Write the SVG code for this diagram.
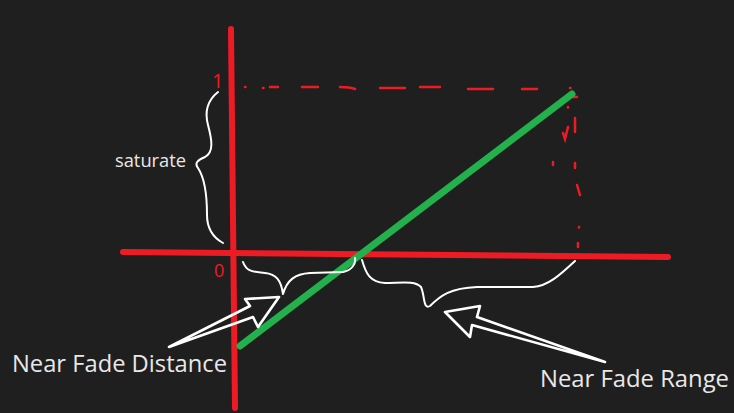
<svg xmlns="http://www.w3.org/2000/svg" width="734" height="413" viewBox="0 0 734 413">
<style>
.ax{stroke:#ed1c24;stroke-width:6;stroke-linecap:round;fill:none}
.dash{stroke:#ed1c24;stroke-width:2.5;stroke-linecap:round;fill:none}
.wh{stroke:#ffffff;stroke-width:2;fill:none;stroke-linecap:round;stroke-linejoin:round}
.arr{stroke:#ffffff;stroke-width:2.6;fill:none;stroke-linejoin:round}
.lbl{font-family:"Open Sans","Noto Sans",sans-serif;fill:#e8e8e8}
.num{font-family:"Open Sans","Noto Sans",sans-serif;fill:#ed1c24}
</style>
<rect width="734" height="413" fill="#1f1f1f"/>
<g id="guides">
<path class="dash" d="M245 87h0.5M263 88h0.5M270 87h8M302 87h16M340 87q10 0 15 2M380 88h25M420 87h20M468 89h25M522 89h15M570 88h0.5"/>
<path class="dash" d="M568 97h9M568 107v0.5M575 118v14M563 133l2 6l3 -12M553 162v3M575 163v5M577 185l3 10M579 227v0.5M578 243v4"/>
</g>
<g id="axes">
<line class="ax" x1="231" y1="29" x2="235" y2="408"/>
<line class="ax" x1="123" y1="252" x2="668" y2="257"/>
</g>
<g id="green-line">
<line x1="240" y1="346" x2="572" y2="94" stroke="#22b14c" stroke-width="7" stroke-linecap="round"/>
</g>
<g id="labels-axis">
<text class="num" x="212" y="88" font-size="20">1</text>
<text class="num" x="214" y="277" font-size="18">0</text>
</g>
<g id="saturate">
<path class="wh" d="M218 92C208 100 204 110 208 125C212 140 214 152 205 157C198 160 194 163 198 168C204 177 207 195 207 215C207 230 214 238 223 243"/>
<text class="lbl" x="115" y="167" font-size="18" textLength="71" lengthAdjust="spacingAndGlyphs">saturate</text>
</g>
<g id="near-fade-distance">
<path class="wh" d="M243 262C246 270 250 272 265 273C276 274 281 280 283 294C287 280 295 274 310 273L343 272C352 270 356 264 355 258"/>
<polygon class="arr" points="279,297 245,299 250,306 169,347 253,317 258,327"/>
<text class="lbl" x="12" y="372" font-size="23" textLength="215" lengthAdjust="spacingAndGlyphs">Near Fade Distance</text>
</g>
<g id="near-fade-range">
<path class="wh" d="M362 260C366 274 370 282 385 283C400 283 415 280 421 287C425 296 423 310 430 306C440 296 450 288 477 287L533 287C548 286 560 275 575 261"/>
<polygon class="arr" points="445,312 480,306 477,317 605,362 472,325 470,337"/>
<text class="lbl" x="540" y="387" font-size="23" textLength="189" lengthAdjust="spacingAndGlyphs">Near Fade Range</text>
</g>
</svg>
